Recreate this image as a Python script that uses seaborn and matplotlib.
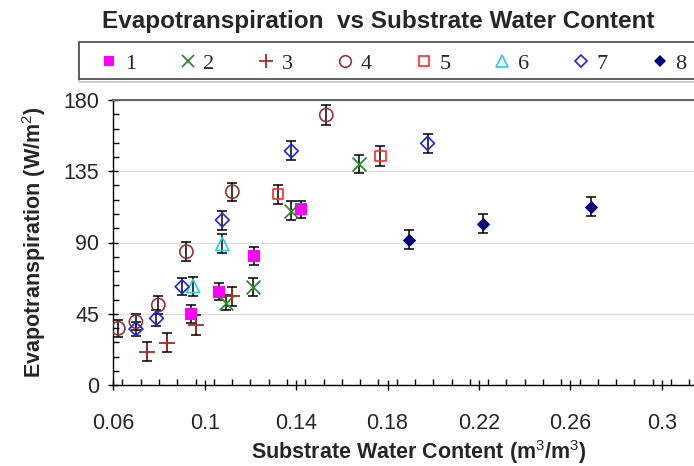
import matplotlib
matplotlib.use("Agg")
import matplotlib.pyplot as plt
from matplotlib.lines import Line2D
from matplotlib.patches import Rectangle
from matplotlib.ticker import MultipleLocator, FixedLocator
import seaborn as sns
import pandas as pd

# ---- data ----
s1_x = [0.0942, 0.1063, 0.1216, 0.1423]
s1_y = [44.8, 58.9, 81.5, 111.0]
s1_e = [5.5, 5.5, 5.5, 5.5]

s2_x = [0.1091, 0.1211, 0.1379, 0.1677]
s2_y = [52.0, 61.7, 110.1, 139.6]
s2_e = [4.8, 5.8, 6.0, 5.6]

s3_x = [0.0749, 0.0836, 0.0961, 0.1121]
s3_y = [21.0, 26.7, 37.9, 56.2]
s3_e = [6.0, 6.0, 6.5, 6.0]

s4_x = [0.0622, 0.0699, 0.0797, 0.0920, 0.1121, 0.1532]
s4_y = [35.8, 40.0, 50.5, 84.2, 122.1, 170.5]
s4_e = [5.3, 5.0, 5.5, 6.0, 5.7, 6.2]

s5_x = [0.1320, 0.1769]
s5_y = [120.6, 144.8]
s5_e = [6.0, 6.3]

s6_x = [0.0949, 0.1077]
s6_y = [62.5, 89.1]
s6_e = [6.0, 6.0]

s7_x = [0.0699, 0.0789, 0.0901, 0.1077, 0.1379, 0.1975]
s7_y = [35.4, 42.1, 62.1, 104.2, 147.8, 152.6]
s7_e = [4.5, 5.0, 5.5, 6.0, 6.0, 6.0]

s8_x = [0.1896, 0.2219, 0.2689]
s8_y = [91.6, 101.7, 112.6]
s8_e = [6.0, 6.0, 6.0]

series_names = ["1", "2", "3", "4", "5", "6", "7", "8"]
xticks = [0.06, 0.10, 0.14, 0.18, 0.22, 0.26, 0.30]
xtick_labels = ["0.06", "0.1", "0.14", "0.18", "0.22", "0.26", "0.3"]
yticks = [0, 45, 90, 135, 180]

title = "Evapotranspiration  vs Substrate Water Content"
xlabel = "Substrate Water Content (m$^3$/m$^3$)"
ylabel = "Evapotranspiration (W/m$^2$)"

# ---- styling ----
sns.set_theme(style="white")
plt.rcParams["font.family"] = ["Liberation Sans", "DejaVu Sans"]
plt.rcParams["mathtext.fontset"] = "custom"
plt.rcParams["mathtext.rm"] = "Liberation Sans"
plt.rcParams["mathtext.bf"] = "Liberation Sans:bold"

styles = [
    dict(marker="s", color="#ff00ff", filled=True, size=8),
    dict(marker="x", color="#2e8b2e", filled=True, size=10),
    dict(marker="+", color="#a52a2a", filled=True, size=11),
    dict(marker="o", color="#993333", filled=False, size=9.5),
    dict(marker="s", color="#ff2a2a", filled=False, size=7.5),
    dict(marker="^", color="#22ccee", filled=False, size=9.5),
    dict(marker="D", color="#2222ee", filled=False, size=7),
    dict(marker="D", color="#000080", filled=True, size=6.8),
]

all_x = [s1_x, s2_x, s3_x, s4_x, s5_x, s6_x, s7_x, s8_x]
all_y = [s1_y, s2_y, s3_y, s4_y, s5_y, s6_y, s7_y, s8_y]
all_e = [s1_e, s2_e, s3_e, s4_e, s5_e, s6_e, s7_e, s8_e]

fig = plt.figure(figsize=(6.94, 4.66), dpi=100)
AX_L, AX_W = 113.3, 694 - 113.3
ax = fig.add_axes([AX_L / 694, 1 - 385 / 466, AX_W / 694, 285 / 466])

for name, xs, ys, es, st in zip(series_names, all_x, all_y, all_e, styles):
    df = pd.DataFrame({"x": xs, "y": ys})
    ax.errorbar(xs, ys, yerr=es, fmt="none", ecolor="black", elinewidth=1.1,
                capsize=3.8, capthick=1.1, zorder=2)
    s = st["size"]
    if st["marker"] in ("x", "+"):
        sns.scatterplot(data=df, x="x", y="y", ax=ax, marker=st["marker"],
                        color=st["color"], s=s ** 2, linewidth=1.3, zorder=3,
                        legend=False)
    elif st["filled"]:
        sns.scatterplot(data=df, x="x", y="y", ax=ax, marker=st["marker"],
                        color=st["color"], s=s ** 2, linewidth=0, zorder=3,
                        legend=False)
    else:
        sns.scatterplot(data=df, x="x", y="y", ax=ax, marker=st["marker"],
                        facecolor="none", edgecolor=st["color"], s=s ** 2,
                        linewidth=1.2, zorder=3, legend=False)

ax.set_xlim(0.06, 0.3141)
ax.set_ylim(0, 180)
ax.xaxis.set_major_locator(FixedLocator(xticks))
ax.set_xticklabels(xtick_labels)
ax.xaxis.set_minor_locator(MultipleLocator(0.008))
ax.yaxis.set_major_locator(FixedLocator(yticks))
ax.yaxis.set_minor_locator(MultipleLocator(9))

ax.grid(axis="y", which="major", color="#dddddd", linewidth=1.0)
ax.set_axisbelow(True)

for sp in ["left", "bottom"]:
    ax.spines[sp].set_color("black")
    ax.spines[sp].set_linewidth(1.0)
ax.spines["top"].set_color("#666666")
ax.spines["top"].set_linewidth(1.5)
ax.spines["right"].set_visible(False)

ax.tick_params(axis="both", which="major", direction="inout", length=7,
               width=1.0, color="black", labelsize=15.5,
               left=True, bottom=True)
ax.tick_params(axis="both", which="minor", direction="in", length=4,
               width=1.0, color="black", left=True, bottom=True)
ax.tick_params(axis="x", which="major", pad=17)
ax.tick_params(axis="y", which="major", pad=6.5)

ax.set_xlabel(xlabel, fontsize=15.5, fontweight="bold")
ax.set_ylabel(ylabel, fontsize=15.5, fontweight="bold")
ax.xaxis.set_label_coords((419 - AX_L) / AX_W, (385 - 438) / 285)
ax.yaxis.set_label_coords((48 - AX_L) / AX_W, 0.5)

fig.text(378 / 694, 1 - 21.7 / 466, title, ha="center", va="center",
         fontsize=17.5, fontweight="bold")

# legend frame (drawn by hand so it can run off the right edge like the reference)
fig.patches.append(Rectangle((79 / 694, 1 - 81.5 / 466), 700 / 694, 37 / 466,
                             transform=fig.transFigure, fill=False,
                             edgecolor="#cccccc", linewidth=1.5, zorder=0))
fig.patches.append(Rectangle((79 / 694, 1 - 79 / 466), 700 / 694, 37 / 466,
                             transform=fig.transFigure, fill=True,
                             facecolor="white", edgecolor="#444444",
                             linewidth=1.2, zorder=1))

handles = []
for name, st in zip(series_names, styles):
    ms = st["size"] * 0.88
    if st["marker"] in ("x", "+") or st["filled"]:
        h = Line2D([], [], linestyle="none", marker=st["marker"],
                   color=st["color"], markersize=ms,
                   markeredgewidth=1.3 if st["marker"] in ("x", "+") else 0)
    else:
        h = Line2D([], [], linestyle="none", marker=st["marker"],
                   markerfacecolor="none", markeredgecolor=st["color"],
                   markersize=ms, markeredgewidth=1.2)
    handles.append(h)

leg = fig.legend(handles, series_names, ncol=8, loc="center left",
                 bbox_to_anchor=(98 / 694, 1 - 63.5 / 466),
                 frameon=False, prop={"family": "Liberation Serif", "size": 16},
                 handlelength=1.0, handletextpad=0.2, columnspacing=1.84,
                 borderpad=0, borderaxespad=0)
leg.set_zorder(3)

fig.savefig("out.png", dpi=100)
